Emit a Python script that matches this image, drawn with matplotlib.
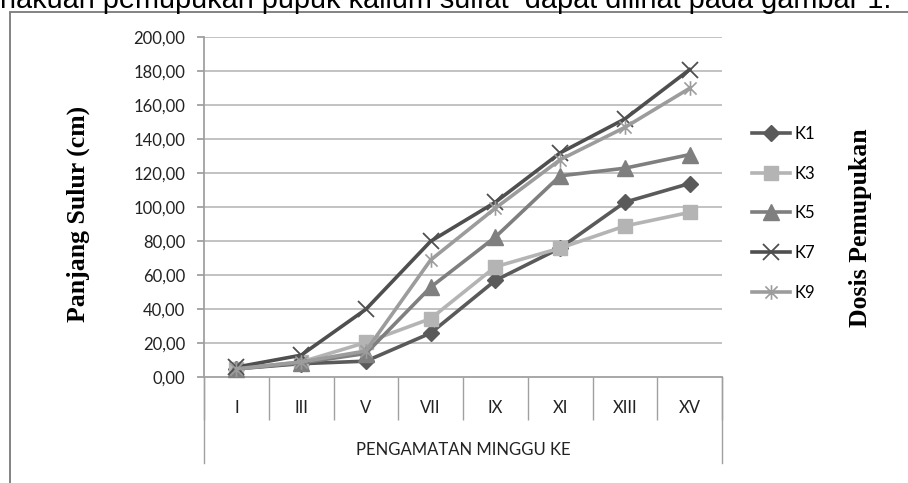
import matplotlib
matplotlib.use("Agg")
import matplotlib.pyplot as plt
from matplotlib.path import Path
from matplotlib.patches import Rectangle
from matplotlib.lines import Line2D

categories = ["I", "III", "V", "VII", "IX", "XI", "XIII", "XV"]
K1 = [5.0, 8.0, 9.5, 26.0, 57.0, 76.0, 103.0, 114.0]
K3 = [5.0, 9.0, 20.5, 34.5, 65.0, 76.0, 89.0, 97.0]
K5 = [5.0, 8.5, 14.0, 53.0, 82.5, 118.5, 123.0, 131.0]
K7 = [6.0, 13.0, 40.0, 80.0, 103.0, 132.0, 152.0, 181.0]
K9 = [5.0, 9.0, 15.5, 69.0, 99.5, 128.0, 147.0, 170.0]
series_names = ["K1", "K3", "K5", "K7", "K9"]
yticks = [0, 20, 40, 60, 80, 100, 120, 140, 160, 180, 200]
ytick_labels = ["0,00", "20,00", "40,00", "60,00", "80,00", "100,00", "120,00",
                "140,00", "160,00", "180,00", "200,00"]

W, H = 908, 483
fig = plt.figure(figsize=(W / 100, H / 100), dpi=100)
fig.patch.set_facecolor("white")

def px(x, y):
    return x / W, 1 - y / H

# excel-like star marker (X + vertical bar)
star_path = Path(
    [(-1, -1), (1, 1), (-1, 1), (1, -1), (0, -1.2), (0, 1.2)],
    [Path.MOVETO, Path.LINETO, Path.MOVETO, Path.LINETO, Path.MOVETO, Path.LINETO],
)

x0, x1 = 204, 722
y0, y1 = 37.3, 377.3
ax = fig.add_axes([x0 / W, 1 - y1 / H, (x1 - x0) / W, (y1 - y0) / H])
ax.set_xlim(-0.5, len(categories) - 0.5)
ax.set_ylim(0, 200)

grid_c = "#bdbdbd"
for v in yticks[1:]:
    ax.axhline(v, color=grid_c, lw=1.3, zorder=0)

xs = list(range(len(categories)))
styles = [
    dict(color="#5a5a5a", marker="D", ms=8.5, mfc="#5a5a5a", mec="#5a5a5a"),
    dict(color="#b4b4b4", marker="s", ms=10.5, mfc="#b4b4b4", mec="#b4b4b4"),
    dict(color="#7f7f7f", marker="^", ms=11.5, mfc="#7f7f7f", mec="#7f7f7f"),
    dict(color="#4f4f4f", marker="x", ms=11, mew=1.3, mec="#4f4f4f"),
    dict(color="#9c9c9c", marker=star_path, ms=10.5, mew=1.2, mec="#9c9c9c", mfc="none"),
]
data = [K1, K3, K5, K7, K9]
handles = []
for name, vals, st in zip(series_names, data, styles):
    h, = ax.plot(xs, vals, lw=2.6, label=name, zorder=3, clip_on=False, **st)
    handles.append(h)

for s in ["top", "right"]:
    ax.spines[s].set_visible(False)
ax.spines["left"].set_color("#a0a0a0")
ax.spines["bottom"].set_color("#a0a0a0")
ax.spines["left"].set_linewidth(1.3)
ax.spines["bottom"].set_linewidth(1.3)

ax.set_yticks(yticks)
ax.set_yticklabels(ytick_labels, fontsize=12, family="Lato", color="#222222")
ax.tick_params(axis="y", length=5, width=1.3, color="#a0a0a0", pad=8.5)

ax.set_xticks(xs)
ax.set_xticklabels(categories, fontsize=12, family="Lato", color="#222222")
ax.tick_params(axis="x", which="major", length=0, pad=16)
ax.set_xticks([i - 0.5 for i in range(len(categories) + 1)], minor=True)
ax.tick_params(axis="x", which="minor", length=31, width=1.0, color="#a0a0a0", direction="out")

# outer ends of category area
for xp in (x0, x1):
    fig.add_artist(Line2D([xp / W, xp / W], [1 - y1 / H, 1 - 463 / H], color="#a0a0a0", lw=1.0))

fig.text(*px(463, 450), "PENGAMATAN MINGGU KE", ha="center", va="center",
         fontsize=12, family="Lato", color="#222222")

fig.text(*px(78, 214), "Panjang Sulur (cm)", rotation=90, ha="center", va="center",
         fontsize=18.5, family="Liberation Serif", fontweight="bold", color="black")
fig.text(*px(861, 228), "Dosis Pemupukan", rotation=90, ha="center", va="center",
         fontsize=18.5, family="Liberation Serif", fontweight="bold", color="black")

leg = fig.legend(handles=handles, loc="upper left", bbox_to_anchor=px(752, 126),
                 frameon=False, prop=dict(family="Lato", size=12),
                 handlelength=2.3, handletextpad=0.25, labelspacing=1.42,
                 borderpad=0, borderaxespad=0)

# outer frame
fig.add_artist(Rectangle(px(10, 520), 1.2, (520 - 12) / H, transform=fig.transFigure,
                         fill=False, edgecolor="#7a7a7a", lw=1.3))

fig.text(*px(0, 8), "nakuan pemupukan pupuk kalium sulfat  dapat dilihat pada gambar 1.",
         ha="left", va="baseline", fontsize=20.8, family="Liberation Sans", color="black")

fig.savefig("out.png", dpi=100)
